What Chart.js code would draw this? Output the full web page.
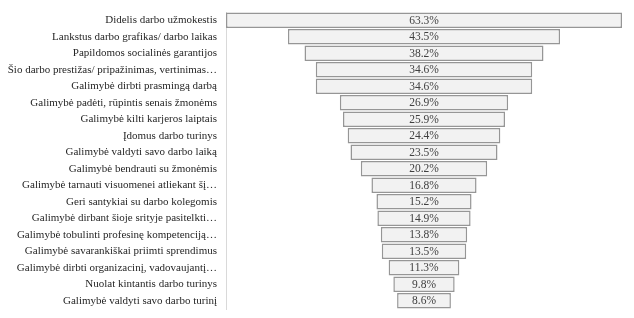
<!DOCTYPE html>
<html>
<head>
<meta charset="utf-8">
<script src="https://cdn.jsdelivr.net/npm/chart.js"></script>
<style>
  html, body { margin: 0; padding: 0; background: #fff; }
  #wrap { width: 634px; height: 318px; position: relative; }
</style>
</head>
<body>
<div id="wrap"><canvas id="chart"></canvas></div>
<script>
// Funnel of reasons (share of respondents, %)
const categories = [
  'Didelis darbo užmokestis',
  'Lankstus darbo grafikas/ darbo laikas',
  'Papildomos socialinės garantijos',
  'Šio darbo prestižas/ pripažinimas, vertinimas…',
  'Galimybė dirbti prasmingą darbą',
  'Galimybė padėti, rūpintis senais žmonėms',
  'Galimybė kilti karjeros laiptais',
  'Įdomus darbo turinys',
  'Galimybė valdyti savo darbo laiką',
  'Galimybė bendrauti su žmonėmis',
  'Galimybė tarnauti visuomenei atliekant šį…',
  'Geri santykiai su darbo kolegomis',
  'Galimybė dirbant šioje srityje pasitelkti…',
  'Galimybė tobulinti profesinę kompetenciją…',
  'Galimybė savarankiškai priimti sprendimus',
  'Galimybė dirbti organizacinį, vadovaujantį…',
  'Nuolat kintantis darbo turinys',
  'Galimybė valdyti savo darbo turinį'
];
const values = [63.3, 43.5, 38.2, 34.6, 34.6, 26.9, 25.9, 24.4, 23.5, 20.2, 16.8, 15.2, 14.9, 13.8, 13.5, 11.3, 9.8, 8.6];

const maxVal = Math.max(...values);
// centred floating bars -> funnel
const funnelData = values.map(v => [-v / 2, v / 2]);

const FONT = '"Liberation Serif", "Times New Roman", serif';

// draws the percentage inside each bar
const valueLabels = {
  id: 'valueLabels',
  afterDatasetsDraw(chart) {
    const ctx = chart.ctx;
    const meta = chart.getDatasetMeta(0);
    const cx = chart.scales.x.getPixelForValue(0);
    ctx.save();
    ctx.font = '11.5px ' + FONT;
    ctx.fillStyle = '#404040';
    ctx.textAlign = 'center';
    ctx.textBaseline = 'middle';
    meta.data.forEach((bar, i) => {
      ctx.fillText(values[i].toFixed(1) + '%', cx, bar.y + 0.5);
    });
    ctx.restore();
  }
};

new Chart(document.getElementById('chart'), {
  type: 'bar',
  data: {
    labels: categories,
    datasets: [{
      data: funnelData,
      backgroundColor: '#f2f2f2',
      borderColor: '#969696',
      borderWidth: 1.5,
      borderSkipped: false,
      barPercentage: 0.94,
      categoryPercentage: 1.0
    }]
  },
  options: {
    indexAxis: 'y',
    responsive: true,
    maintainAspectRatio: false,
    animation: false,
    layout: { padding: { top: 12, right: 12, bottom: 9, left: 0 } },
    plugins: {
      legend: { display: false },
      tooltip: { enabled: false }
    },
    scales: {
      x: {
        display: false,
        min: -maxVal / 2,
        max: maxVal / 2
      },
      y: {
        afterFit: (scale) => {
          scale.width = 226;
          scale.paddingTop = 0;
          scale.paddingBottom = 0;
        },
        grid: { display: false, drawTicks: false },
        border: { display: true, color: '#d9d9d9', width: 1 },
        ticks: {
          padding: 9,
          autoSkip: false,
          color: '#262626',
          font: { family: FONT, size: 11 }
        }
      }
    }
  },
  plugins: [valueLabels]
});
</script>
</body>
</html>
